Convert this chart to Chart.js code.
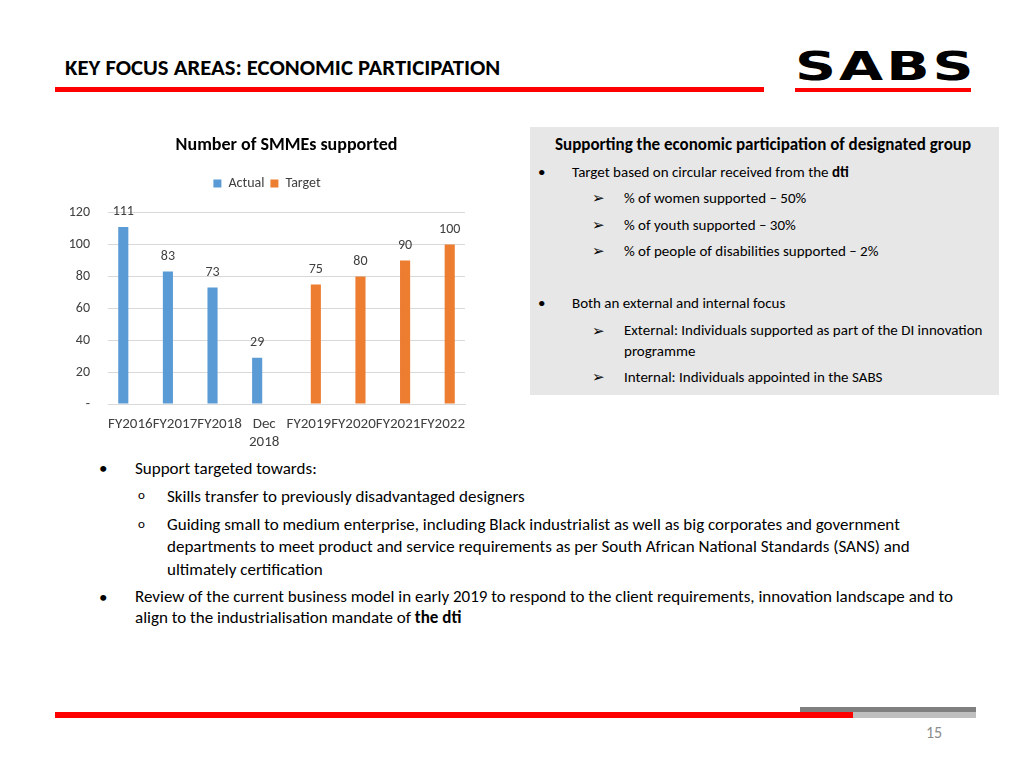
<!DOCTYPE html>
<html lang="en">
<head>
    <meta charset="UTF-8">
    <title>Key Focus Areas: Economic Participation</title>
    <script src="https://cdn.jsdelivr.net/npm/chart.js"></script>
    <style>
        body { margin: 0; width: 1024px; height: 768px; background: #fff; position: relative; overflow: hidden; font-family: Carlito, Lato, sans-serif; color: #000; }
        .abs { position: absolute; white-space: nowrap; }
        .header { left: 65px; top: 53px; font-size: 22.7px; font-weight: bold; }
        .redline { left: 55px; top: 87px; width: 709px; height: 5px; background: #f00; }
        .logo { left: 795px; top: 47px; font-family: "DejaVu Sans", sans-serif; font-weight: bold; font-size: 38px; line-height: 38px; letter-spacing: 2px; transform: scaleX(1.5) scaleY(1.03); transform-origin: left top; }
        .logoline { left: 795px; top: 88px; width: 176px; height: 4px; background: #f00; }
        .panelbg { left: 530px; top: 127px; width: 469px; height: 268px; background: #e7e7e7; }
        .panel .abs { font-size: 15px; }
        .panel .ptitle { left: 555px; top: 133.5px; font-weight: bold; font-size: 17px; }
        .bottom .abs { font-size: 17px; }
        .bottom .circ { font-size: 13px; }
        #chartBox { position: absolute; left: 55px; top: 126px; width: 440px; height: 330px; }
    </style>
</head>
<body>
    <div class="abs header">KEY FOCUS AREAS: ECONOMIC PARTICIPATION</div>
    <div class="abs redline"></div>
    <div class="abs logo">SABS</div>
    <div class="abs logoline"></div>

    <div id="chartBox"><canvas id="smmeChart"></canvas></div>

    <div class="abs panelbg"></div>
    <div class="panel">
        <div class="abs ptitle">Supporting the economic participation of designated group</div>
        <div class="abs" style="left:538px; top:163px;">&bull;</div>
        <div class="abs" style="left:572px; top:163px;">Target based on circular received from the <b>dti</b></div>
        <div class="abs" style="left:592px; top:188.5px;">&#10146;</div>
        <div class="abs" style="left:624px; top:188.5px;">% of women supported &ndash; 50%</div>
        <div class="abs" style="left:592px; top:215.5px;">&#10146;</div>
        <div class="abs" style="left:624px; top:215.5px;">% of youth supported &ndash; 30%</div>
        <div class="abs" style="left:592px; top:241.5px;">&#10146;</div>
        <div class="abs" style="left:624px; top:241.5px;">% of people of disabilities supported &ndash; 2%</div>
        <div class="abs" style="left:538px; top:293.5px;">&bull;</div>
        <div class="abs" style="left:572px; top:293.5px;">Both an external and internal focus</div>
        <div class="abs" style="left:592px; top:321.5px;">&#10146;</div>
        <div class="abs" style="left:624px; top:319.5px; line-height:21px;">External: Individuals supported as part of the DI innovation<br>programme</div>
        <div class="abs" style="left:592px; top:367.5px;">&#10146;</div>
        <div class="abs" style="left:624px; top:367.5px;">Internal: Individuals appointed in the SABS</div>
    </div>

    <div class="bottom">
        <div class="abs" style="left:99px; top:457.5px;">&bull;</div>
        <div class="abs" style="left:135px; top:457.5px;">Support targeted towards:</div>
        <div class="abs circ" style="left:138px; top:487px;">o</div>
        <div class="abs" style="left:167px; top:485.5px;">Skills transfer to previously disadvantaged designers</div>
        <div class="abs circ" style="left:138px; top:516px;">o</div>
        <div class="abs" style="left:167px; top:513.5px; line-height:22.5px;">Guiding small to medium enterprise, including Black industrialist as well as big corporates and government<br>departments to meet product and service requirements as per South African National Standards (SANS) and<br>ultimately certification</div>
        <div class="abs" style="left:99px; top:587px;">&bull;</div>
        <div class="abs" style="left:135px; top:586px; line-height:21px;">Review of the current business model in early 2019 to respond to the client requirements, innovation landscape and to<br>align to the industrialisation mandate of <b>the dti</b></div>
    </div>

    <div class="abs" style="left:800px; top:707px; width:176px; height:5px; background:#808080;"></div>
    <div class="abs" style="left:853px; top:712px; width:123px; height:6px; background:#bfbfbf;"></div>
    <div class="abs" style="left:55px; top:712px; width:798px; height:6px; background:#f00;"></div>
    <div class="abs" style="left:926px; top:723px; font-size:16px; color:#8c8c8c;">15</div>

    <script>
        const categories = ['FY2016', 'FY2017', 'FY2018', ['Dec', '2018'], 'FY2019', 'FY2020', 'FY2021', 'FY2022'];
        const actualValues = [111, 83, 73, 29, null, null, null, null];
        const targetValues = [null, null, null, null, 75, 80, 90, 100];
        const yTicks = [0, 20, 40, 60, 80, 100, 120];

        const fontFamily = 'Carlito, Lato, sans-serif';

        // numbers above each bar
        const valueLabels = {
            id: 'valueLabels',
            afterDatasetsDraw(chart) {
                const ctx = chart.ctx;
                ctx.save();
                ctx.font = '14px ' + fontFamily;
                ctx.fillStyle = '#404040';
                ctx.textAlign = 'center';
                ctx.textBaseline = 'middle';
                chart.data.datasets.forEach((ds, i) => {
                    chart.getDatasetMeta(i).data.forEach((bar, j) => {
                        if (ds.data[j] == null) return;
                        ctx.fillText(ds.data[j], bar.x, bar.y - 15);
                    });
                });
                ctx.restore();
            }
        };

        // extra room under the legend
        const legendGap = {
            id: 'legendGap',
            beforeInit(chart) {
                const fit = chart.legend.fit;
                chart.legend.fit = function () {
                    fit.bind(chart.legend)();
                    this.height += 12;
                };
            }
        };

        const ctx = document.getElementById('smmeChart').getContext('2d');
        new Chart(ctx, {
            type: 'bar',
            data: {
                labels: categories,
                datasets: [{
                    label: 'Actual',
                    data: actualValues,
                    backgroundColor: '#5B9BD5'
                }, {
                    label: 'Target',
                    data: targetValues,
                    backgroundColor: '#ED7D31'
                }]
            },
            options: {
                responsive: true,
                maintainAspectRatio: false,
                animation: false,
                categoryPercentage: 0.63,
                barPercentage: 0.72,
                layout: { padding: { left: 14, right: 30, top: 0, bottom: 2 } },
                plugins: {
                    title: {
                        display: true,
                        fullSize: false,
                        text: 'Number of SMMEs supported',
                        color: '#000',
                        font: { family: fontFamily, size: 18, weight: 'bold' },
                        padding: { top: 9, bottom: 14 }
                    },
                    legend: {
                        display: true,
                        labels: {
                            boxWidth: 8,
                            boxHeight: 8,
                            color: '#404040',
                            padding: 6,
                            font: { family: fontFamily, size: 14 }
                        }
                    },
                    tooltip: { enabled: false }
                },
                scales: {
                    x: {
                        grid: { display: false },
                        border: { color: '#d9d9d9' },
                        ticks: {
                            color: '#404040',
                            maxRotation: 0,
                            autoSkip: false,
                            font: { family: fontFamily, size: 15 }
                        }
                    },
                    y: {
                        min: 0,
                        max: 120,
                        afterBuildTicks(axis) { axis.ticks = yTicks.map(v => ({ value: v })); },
                        afterFit(axis) { axis.width = 39; },
                        grid: { color: '#d9d9d9', drawTicks: false },
                        border: { display: false },
                        ticks: {
                            color: '#404040',
                            padding: 18,
                            font: { family: fontFamily, size: 14 },
                            callback: v => v === 0 ? '-' : v
                        }
                    }
                }
            },
            plugins: [valueLabels, legendGap]
        });
    </script>
</body>
</html>
